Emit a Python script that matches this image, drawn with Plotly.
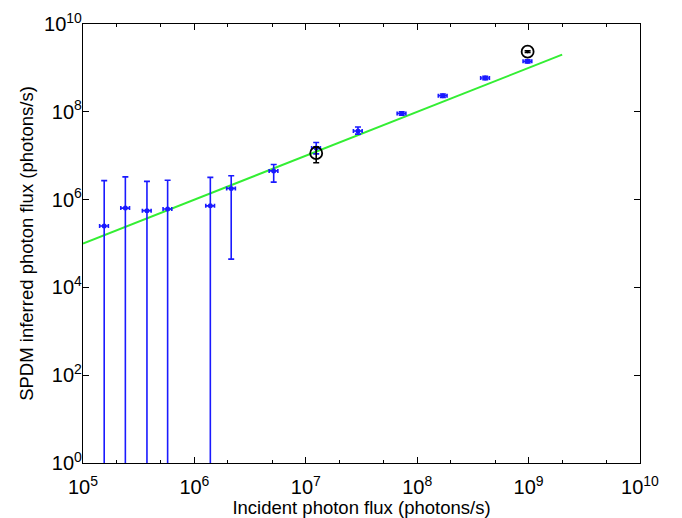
import plotly.graph_objects as go

# SPDM measurements (blue)
incident = [1.55e5, 2.4e5, 3.75e5, 5.75e5, 1.39e6, 2.14e6, 5.15e6, 1.24e7,
            2.94e7, 7.26e7, 1.7e8, 4.08e8, 9.8e8]
inferred = [2.5e5, 6.4e5, 5.6e5, 6.1e5, 7.2e5, 1.8e6, 4.5e6, 1.5e7,
            3.66e7, 9.2e7, 2.33e8, 5.9e8, 1.41e9]
err_upper = [2.7e6, 3.3e6, 2.6e6, 2.75e6, 3.2e6, 3.5e6, 6.3e6, 2.0e7,
             4.5e7, 1.0e8, 2.55e8, 6.4e8, 1.52e9]
err_lower = [1e-2, 1e-2, 1e-2, 1e-2, 1e-2, 4.4e4, 2.5e6, 1.1e7,
             3.1e7, 8.4e7, 2.13e8, 5.4e8, 1.3e9]

# Reference measurements (black circles)
ref_incident = [1.24e7, 9.8e8]
ref_inferred = [1.14e7, 2.34e9]
ref_upper = [1.6e7, 2.45e9]
ref_lower = [6.9e6, 2.25e9]

# Unity line
line_x = [1e5, 2e9]
line_y = [1e5, 2e9]

x_tickvals = [1e5, 1e6, 1e7, 1e8, 1e9, 1e10]
x_ticktext = ["10<sup>5</sup>", "10<sup>6</sup>", "10<sup>7</sup>",
              "10<sup>8</sup>", "10<sup>9</sup>", "10<sup>10</sup>"]
y_tickvals = [1e0, 1e2, 1e4, 1e6, 1e8, 1e10]
y_ticktext = ["10<sup>0</sup>", "10<sup>2</sup>", "10<sup>4</sup>",
              "10<sup>6</sup>", "10<sup>8</sup>", "10<sup>10</sup>"]

BLUE = "#1a1aff"
FONT = "Liberation Sans, Arial, Helvetica, sans-serif"

fig = go.Figure()

fig.add_trace(go.Scatter(
    x=line_x, y=line_y, mode="lines",
    line=dict(color="#33ee33", width=2), showlegend=False,
))

fig.add_trace(go.Scatter(
    x=incident, y=inferred, mode="markers",
    marker=dict(color=BLUE, size=5),
    error_y=dict(type="data", symmetric=False,
                 array=[u - v for u, v in zip(err_upper, inferred)],
                 arrayminus=[v - l for v, l in zip(inferred, err_lower)],
                 color=BLUE, thickness=1.6, width=3),
    error_x=dict(type="percent", value=9, color=BLUE, thickness=1.6, width=2),
    showlegend=False,
))

fig.add_trace(go.Scatter(
    x=ref_incident, y=ref_inferred, mode="markers",
    marker=dict(symbol=["circle-open", "circle-open-dot"], color="black", size=12,
                line=dict(width=1.8, color="black")),
    error_y=dict(type="data", symmetric=False,
                 array=[u - v for u, v in zip(ref_upper, ref_inferred)],
                 arrayminus=[v - l for v, l in zip(ref_inferred, ref_lower)],
                 color="black", thickness=1.6, width=3),
    showlegend=False,
))

axis_common = dict(
    type="log", showgrid=False, zeroline=False, showline=True,
    linecolor="black", linewidth=1.2, mirror="ticks",
    ticks="inside", ticklen=6, tickcolor="black",
    tickfont=dict(family=FONT, size=20, color="black"),
)

fig.update_xaxes(
    **axis_common, range=[5, 10], tickvals=x_tickvals, ticktext=x_ticktext,
    ticklabelstandoff=6, automargin=False,
    minor=dict(ticks="inside", ticklen=3, tickcolor="black", showgrid=False),
    title=dict(text="Incident photon flux (photons/s)",
               font=dict(family=FONT, size=18.5, color="black")),
)
fig.update_yaxes(
    **axis_common, range=[0, 10], tickvals=y_tickvals, ticktext=y_ticktext,
    ticklabelstandoff=-4, automargin=True,
    title=dict(text="SPDM inferred photon flux (photons/s)", standoff=5,
               font=dict(family=FONT, size=18.5, color="black")),
)

fig.update_layout(
    width=682, height=518,
    margin=dict(l=83, r=42, t=24, b=55, autoexpand=False),
    paper_bgcolor="white", plot_bgcolor="white",
)

fig.write_html("out.html")
